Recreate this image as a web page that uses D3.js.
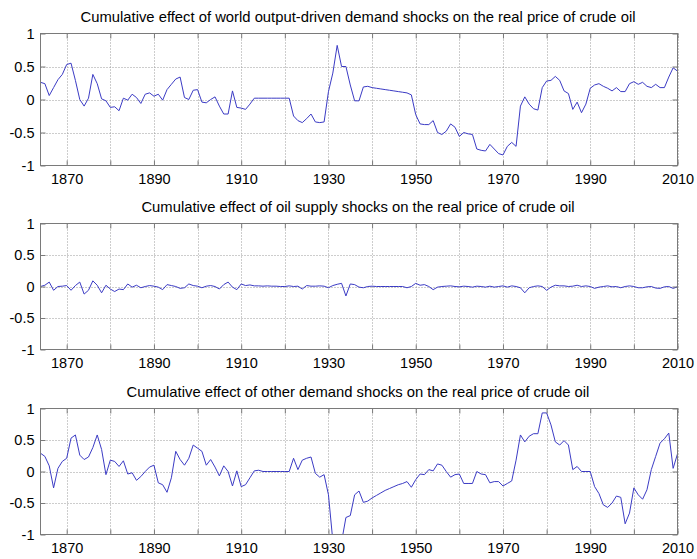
<!DOCTYPE html>
<html>
<head>
<meta charset="utf-8">
<script src="https://cdn.jsdelivr.net/npm/d3@7"></script>
<style>
  body { margin: 0; background: #fff; }
  svg { display: block; font-family: "Liberation Sans", Arial, sans-serif; }
</style>
</head>
<body>
<div id="app"></div>
<script>
// years 1864..2010, one value per year
const firstYear = 1864
const lastYear = 2010

const worldDemand = [
  0.26, 0.24, 0.06, 0.18, 0.30, 0.38, 0.53, 0.55, 0.29, 0.00,
  -0.10, 0.02, 0.38, 0.24, 0.01, -0.02, -0.12, -0.11, -0.17, 0.02,
  -0.01, 0.08, 0.03, -0.06, 0.08, 0.10, 0.05, 0.08, -0.01, 0.15,
  0.23, 0.31, 0.34, 0.03, 0.00, 0.14, 0.15, -0.04, -0.05, 0.00,
  0.04, -0.10, -0.22, -0.22, 0.13, -0.12, -0.13, -0.15, -0.07, 0.02,
  0.02, 0.02, 0.02, 0.02, 0.02, 0.02, 0.02, 0.02, -0.25, -0.32,
  -0.35, -0.29, -0.22, -0.34, -0.35, -0.34, 0.12, 0.40, 0.82, 0.50,
  0.50, 0.22, -0.02, -0.02, 0.19, 0.20, 0.18, 0.17, 0.16, 0.15,
  0.14, 0.13, 0.12, 0.11, 0.10, 0.07, -0.23, -0.37, -0.38, -0.38,
  -0.32, -0.50, -0.53, -0.48, -0.37, -0.42, -0.56, -0.50, -0.52, -0.53,
  -0.75, -0.77, -0.78, -0.68, -0.75, -0.82, -0.84, -0.71, -0.65, -0.71,
  -0.10, 0.04, -0.07, -0.14, -0.16, 0.18, 0.28, 0.29, 0.35, 0.29,
  0.13, 0.09, -0.15, -0.04, -0.20, -0.07, 0.17, 0.22, 0.24, 0.20,
  0.17, 0.13, 0.18, 0.12, 0.12, 0.24, 0.27, 0.23, 0.26, 0.20,
  0.18, 0.23, 0.18, 0.18, 0.34, 0.48, 0.43
]

const oilSupply = [
  0.00, 0.02, 0.07, -0.06, 0.00, 0.005, 0.015, -0.06, 0.015, 0.07,
  -0.12, -0.06, 0.09, 0.02, -0.10, 0.02, -0.04, -0.08, -0.04, -0.05,
  0.04, -0.01, 0.02, -0.02, 0.00, 0.015, 0.005, -0.01, -0.05, 0.03,
  0.015, 0.00, -0.03, -0.02, 0.04, 0.015, 0.005, -0.02, 0.005, 0.015,
  0.00, -0.04, 0.03, 0.07, -0.01, -0.05, 0.04, 0.015, 0.025, 0.01,
  0.01, 0.005, 0.01, 0.005, 0.005, 0.00, 0.00, 0.01, 0.00, 0.005,
  -0.04, 0.015, 0.005, 0.005, 0.01, 0.005, -0.02, 0.015, 0.035, 0.05,
  -0.15, 0.04, 0.03, -0.01, -0.02, 0.00, 0.005, 0.00, 0.00, 0.00,
  0.00, 0.00, 0.00, 0.00, -0.02, 0.00, 0.05, 0.02, 0.03, 0.00,
  -0.05, -0.01, 0.00, 0.005, 0.01, 0.00, -0.005, 0.005, 0.00, -0.01,
  0.005, 0.00, -0.01, 0.005, -0.01, 0.00, 0.01, -0.01, 0.01, 0.00,
  -0.02, -0.10, -0.02, 0.00, 0.01, 0.00, -0.06, -0.01, 0.02, 0.01,
  0.01, 0.00, 0.005, 0.02, 0.00, 0.01, 0.00, -0.03, -0.01, 0.00,
  0.01, -0.005, 0.00, -0.02, 0.00, 0.01, 0.00, -0.02, -0.02, -0.005,
  0.00, -0.025, -0.03, -0.005, 0.00, -0.03, -0.005
]

const otherDemand = [
  0.29, 0.24, 0.09, -0.26, 0.05, 0.16, 0.21, 0.53, 0.58, 0.26,
  0.19, 0.23, 0.38, 0.58, 0.35, -0.05, 0.18, 0.16, 0.08, 0.17,
  -0.04, -0.02, -0.14, -0.08, 0.00, 0.07, 0.10, -0.18, -0.21, -0.33,
  -0.10, 0.32, 0.19, 0.10, 0.21, 0.42, 0.37, 0.32, 0.10, 0.19,
  0.07, -0.07, 0.09, 0.00, -0.23, 0.01, -0.24, -0.21, -0.10, 0.01,
  0.02, 0.00, 0.00, 0.00, 0.00, 0.00, 0.00, 0.00, 0.21, 0.03,
  0.18, 0.21, 0.23, -0.03, -0.09, -0.05, -0.37, -1.10, -1.40, -1.12,
  -0.73, -0.70, -0.37, -0.31, -0.49, -0.47, -0.42, -0.38, -0.34, -0.30,
  -0.27, -0.24, -0.21, -0.19, -0.16, -0.25, -0.13, -0.04, -0.05, 0.03,
  0.01, 0.12, 0.10, 0.00, -0.09, -0.05, -0.04, -0.19, -0.19, -0.19,
  0.00, -0.04, -0.05, -0.18, -0.16, -0.16, -0.23, -0.19, -0.15, 0.18,
  0.58, 0.47, 0.56, 0.60, 0.60, 0.93, 0.93, 0.74, 0.47, 0.42,
  0.49, 0.42, 0.03, 0.08, 0.00, 0.00, 0.00, -0.24, -0.35, -0.53,
  -0.57, -0.50, -0.39, -0.41, -0.83, -0.66, -0.26, -0.37, -0.44, -0.29,
  0.03, 0.24, 0.45, 0.52, 0.61, 0.05, 0.28
]

const titles = [
  'Cumulative effect of world output-driven demand shocks on the real price of crude oil',
  'Cumulative effect of oil supply shocks on the real price of crude oil',
  'Cumulative effect of other demand shocks on the real price of crude oil'
]
const xTicks = [1870, 1880, 1890, 1900, 1910, 1920, 1930, 1940, 1950, 1960, 1970, 1980, 1990, 2000, 2010]
const xLabels = [1870, 1890, 1910, 1930, 1950, 1970, 1990, 2010]
const yTicks = [-1, -0.5, 0, 0.5, 1]
const yGrid = [-0.5, 0, 0.5]

const years = d3.range(firstYear, lastYear + 1)

const w = 697
const h = 559
const left = 40.5
const right = 677.5
const boxColor = '#7a7a7a'
const gridColor = '#9a9a9a'
const lineColor = '#3b3bc4'

const panels = [
  { title: titles[0], values: worldDemand, top: 33.5, bottom: 165.5 },
  { title: titles[1], values: oilSupply, top: 223.5, bottom: 349.5 },
  { title: titles[2], values: otherDemand, top: 408.5, bottom: 534.5 }
]

const svg = d3.select('#app')
              .append('svg')
              .attr('width', w)
              .attr('height', h)

const xScale = d3.scaleLinear()
                 .domain([firstYear, lastYear])
                 .range([left, right])

panels.forEach(function(p, i) {
  const yScale = d3.scaleLinear()
                   .domain([-1, 1])
                   .range([p.bottom, p.top])
  const g = svg.append('g')

  // dotted grid
  g.selectAll('.vgrid')
   .data(xTicks)
   .enter()
   .append('line')
   .attr('x1', d => Math.round(xScale(d)) + 0.5)
   .attr('x2', d => Math.round(xScale(d)) + 0.5)
   .attr('y1', p.top)
   .attr('y2', p.bottom)
   .attr('stroke', gridColor)
   .attr('stroke-dasharray', '1,2')

  g.selectAll('.hgrid')
   .data(yGrid)
   .enter()
   .append('line')
   .attr('x1', left)
   .attr('x2', right)
   .attr('y1', d => Math.round(yScale(d)) + 0.5)
   .attr('y2', d => Math.round(yScale(d)) + 0.5)
   .attr('stroke', gridColor)
   .attr('stroke-dasharray', '1,2')

  // the series, clipped to the axes box
  svg.append('clipPath')
     .attr('id', 'clip' + i)
     .append('rect')
     .attr('x', left)
     .attr('y', p.top)
     .attr('width', right - left)
     .attr('height', p.bottom - p.top)

  const line = d3.line()
                 .x((d, j) => xScale(years[j]))
                 .y(d => yScale(d))

  g.append('path')
   .datum(p.values)
   .attr('clip-path', 'url(#clip' + i + ')')
   .attr('d', line)
   .attr('fill', 'none')
   .attr('stroke', lineColor)
   .attr('stroke-width', 1)

  // axes with inward ticks on all four sides
  const bottomAxis = d3.axisBottom(xScale)
                       .tickValues(xTicks)
                       .tickSizeInner(-5)
                       .tickSizeOuter(0)
                       .tickPadding(8)
                       .tickFormat(d => xLabels.indexOf(d) >= 0 ? String(d) : '')
  const topAxis = d3.axisTop(xScale)
                    .tickValues(xTicks)
                    .tickSizeInner(-5)
                    .tickSizeOuter(0)
                    .tickFormat('')
  const leftAxis = d3.axisLeft(yScale)
                     .tickValues(yTicks)
                     .tickSizeInner(-5)
                     .tickSizeOuter(0)
                     .tickPadding(6)
                     .tickFormat(d => String(d))
  const rightAxis = d3.axisRight(yScale)
                      .tickValues(yTicks)
                      .tickSizeInner(-5)
                      .tickSizeOuter(0)
                      .tickFormat('')

  const axes = [
    g.append('g').attr('transform', 'translate(0,' + p.bottom + ')').call(bottomAxis),
    g.append('g').attr('transform', 'translate(0,' + p.top + ')').call(topAxis),
    g.append('g').attr('transform', 'translate(' + left + ',0)').call(leftAxis),
    g.append('g').attr('transform', 'translate(' + right + ',0)').call(rightAxis)
  ]
  axes.forEach(function(a) {
    a.select('.domain').remove()
    a.selectAll('line').attr('stroke', boxColor)
    a.selectAll('text')
     .attr('fill', '#000')
     .style('font-size', '14.5px')
     .style('font-family', '"Liberation Sans", Arial, sans-serif')
  })

  g.append('rect')
   .attr('x', left)
   .attr('y', p.top)
   .attr('width', right - left)
   .attr('height', p.bottom - p.top)
   .attr('fill', 'none')
   .attr('stroke', boxColor)

  g.append('text')
   .attr('x', (left + right) / 2 - 1)
   .attr('y', p.top - 12)
   .attr('text-anchor', 'middle')
   .style('font-size', '14.8px')
   .text(p.title)
})
</script>
</body>
</html>
